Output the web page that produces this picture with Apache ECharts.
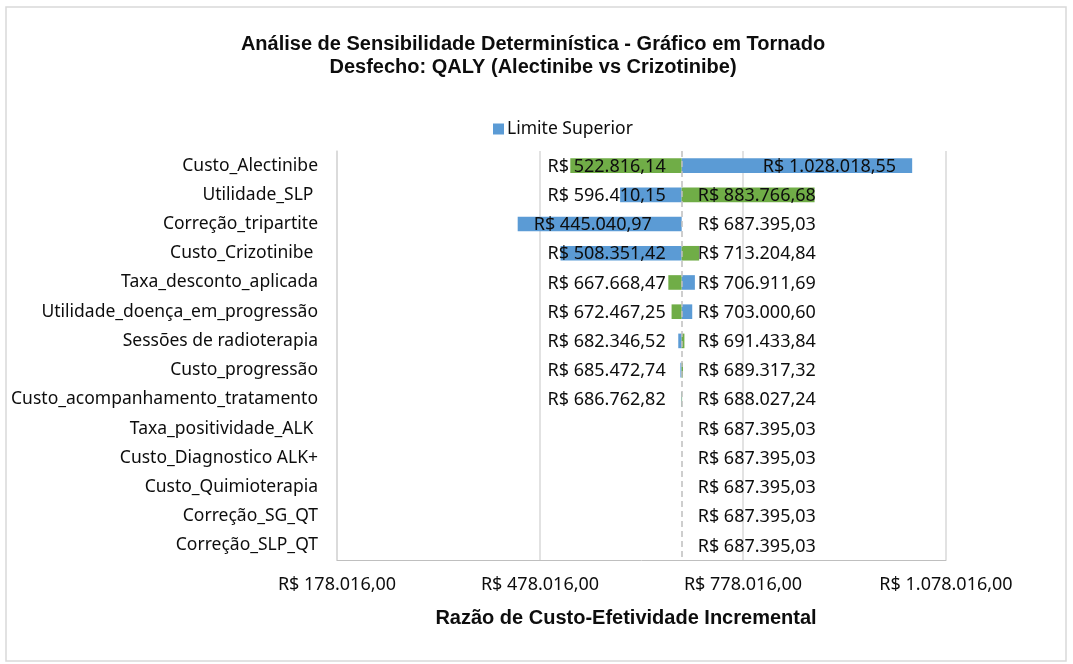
<!DOCTYPE html>
<html>
<head>
<meta charset="utf-8">
<script src="https://cdn.jsdelivr.net/npm/echarts@6/dist/echarts.min.js"></script>
<style>
  html, body { margin: 0; padding: 0; background: #fff; }
  #chart { width: 1073px; height: 664px; }
</style>
</head>
<body>
<div id="chart"></div>
<script>
// parameters (top to bottom)
var categories = [
	'Custo_Alectinibe',
	'Utilidade_SLP ',
	'Correção_tripartite',
	'Custo_Crizotinibe ',
	'Taxa_desconto_aplicada',
	'Utilidade_doença_em_progressão',
	'Sessões de radioterapia',
	'Custo_progressão',
	'Custo_acompanhamento_tratamento',
	'Taxa_positividade_ALK ',
	'Custo_Diagnostico ALK+',
	'Custo_Quimioterapia',
	'Correção_SG_QT',
	'Correção_SLP_QT'
];
var baseValue = 687395.03;
var limiteSuperior = [1028018.55, 596410.15, 445040.97, 508351.42, 706911.69, 703000.60, 682346.52, 685472.74, 686762.82, 687395.03, 687395.03, 687395.03, 687395.03, 687395.03];
var limiteInferior = [522816.14, 883766.68, 687395.03, 713204.84, 667668.47, 672467.25, 691433.84, 689317.32, 688027.24, 687395.03, 687395.03, 687395.03, 687395.03, 687395.03];
var axisMin = 178016;
var axisMax = 1078016;
var axisStep = 300000;

var FONT = '"Noto Sans", sans-serif';
var LABEL_SIZE = 18;

function brl(v) {
	var neg = v < 0;
	var parts = Math.abs(v).toFixed(2).split('.');
	var intPart = parts[0].replace(/\B(?=(\d{3})+(?!\d))/g, '.');
	return (neg ? '-' : '') + 'R$ ' + intPart + ',' + parts[1];
}

var measureCtx = document.createElement('canvas').getContext('2d');
function textWidth(s) {
	measureCtx.font = LABEL_SIZE + 'px ' + FONT;
	return measureCtx.measureText(s).width;
}

function makeRender(color, skipAtBase) {
	return function (params, api) {
		var idx = api.value(0);
		var v = api.value(1);
		var pBase = api.coord([baseValue, idx]);
		var pVal = api.coord([v, idx]);
		var band = api.size([0, 1])[1];
		var h = band * 0.5;
		var x0 = Math.min(pBase[0], pVal[0]);
		var x1 = Math.max(pBase[0], pVal[0]);
		var children = [{
			type: 'rect',
			shape: { x: x0, y: pBase[1] - h / 2, width: x1 - x0, height: h },
			style: { fill: color }
		}];
		var diff = Math.abs(v - baseValue) < 0.005 ? 0 : v - baseValue;
		if (!(skipAtBase && diff === 0)) {
			var txt = brl(v);
			var w = textWidth(txt);
			var tx;
			if (diff < 0) {
				tx = Math.min(pBase[0] - 16 - w, x0 + 16);
			} else {
				tx = Math.max(pBase[0] + 16, x1 - 16 - w);
			}
			children.push({
				type: 'text',
				z2: 100,
				style: {
					x: tx, y: pBase[1] + 1,
					text: txt,
					fill: '#0d0d0d',
					font: LABEL_SIZE + 'px ' + FONT,
					align: 'left',
					verticalAlign: 'middle'
				}
			});
		}
		return { type: 'group', children: children };
	};
}

function toData(arr) {
	var out = [];
	for (var i = 0; i < arr.length; i++) {
		out.push([i, arr[i]]);
	}
	return out;
}

var chart = echarts.init(document.getElementById('chart'));

var option = {
	backgroundColor: '#fff',
	animation: false,
	title: [{
		text: 'Análise de Sensibilidade Determinística - Gráfico em Tornado\nDesfecho: QALY (Alectinibe vs Crizotinibe)',
		left: 528,
		top: 28,
		textAlign: 'center',
		textStyle: {
			fontFamily: '"Liberation Sans", Arial, sans-serif',
			fontSize: 20,
			fontWeight: 'bold',
			color: '#0d0d0d',
			lineHeight: 23
		}
	}, {
		text: 'Razão de Custo-Efetividade Incremental',
		left: 621,
		top: 603,
		textAlign: 'center',
		textStyle: {
			fontFamily: '"Liberation Sans", Arial, sans-serif',
			fontSize: 20,
			fontWeight: 'bold',
			color: '#0d0d0d'
		}
	}],
	legend: {
		data: ['Limite Superior'],
		left: 488,
		top: 115,
		itemWidth: 11,
		itemHeight: 11,
		itemGap: 10,
		icon: 'rect',
		textStyle: { fontFamily: FONT, fontSize: 17.5, color: '#0d0d0d', padding: [0, 0, 0, -2] }
	},
	graphic: [{
		type: 'rect',
		shape: { x: 6, y: 7, width: 1060, height: 654 },
		style: { fill: 'none', stroke: '#d9d9d9', lineWidth: 1.5 },
		silent: true
	}],
	grid: {
		left: 337,
		right: 127,
		top: 151,
		height: 409
	},
	xAxis: {
		type: 'value',
		min: axisMin,
		max: axisMax,
		interval: axisStep,
		axisLine: { show: true, onZero: false, lineStyle: { color: '#bfbfbf', width: 1 } },
		axisTick: { show: false },
		splitLine: { show: true, lineStyle: { color: '#d9d9d9', width: 1.5 } },
		axisLabel: {
			margin: 16,
			fontFamily: FONT,
			fontSize: LABEL_SIZE,
			color: '#0d0d0d',
			formatter: function (v) { return brl(v); }
		}
	},
	yAxis: {
		type: 'category',
		data: categories,
		inverse: true,
		axisLine: { show: true, lineStyle: { color: '#d9d9d9', width: 1.5 } },
		axisTick: { show: false },
		axisLabel: {
			margin: 19,
			fontFamily: FONT,
			fontSize: 17.5,
			color: '#0d0d0d'
		}
	},
	series: [{
		name: 'Limite Superior',
		type: 'custom',
		itemStyle: { color: '#5b9bd5' },
		renderItem: makeRender('#5b9bd5', true),
		encode: { x: 1, y: 0 },
		data: toData(limiteSuperior),
		markLine: {
			silent: true,
			symbol: 'none',
			label: { show: false },
			lineStyle: { color: '#bfbfbf', type: [6, 4], width: 1.5 },
			data: [{ xAxis: baseValue }]
		}
	}, {
		name: 'Limite Inferior',
		type: 'custom',
		itemStyle: { color: '#70ad47' },
		renderItem: makeRender('#70ad47', false),
		encode: { x: 1, y: 0 },
		data: toData(limiteInferior)
	}]
};

chart.setOption(option);
</script>
</body>
</html>
